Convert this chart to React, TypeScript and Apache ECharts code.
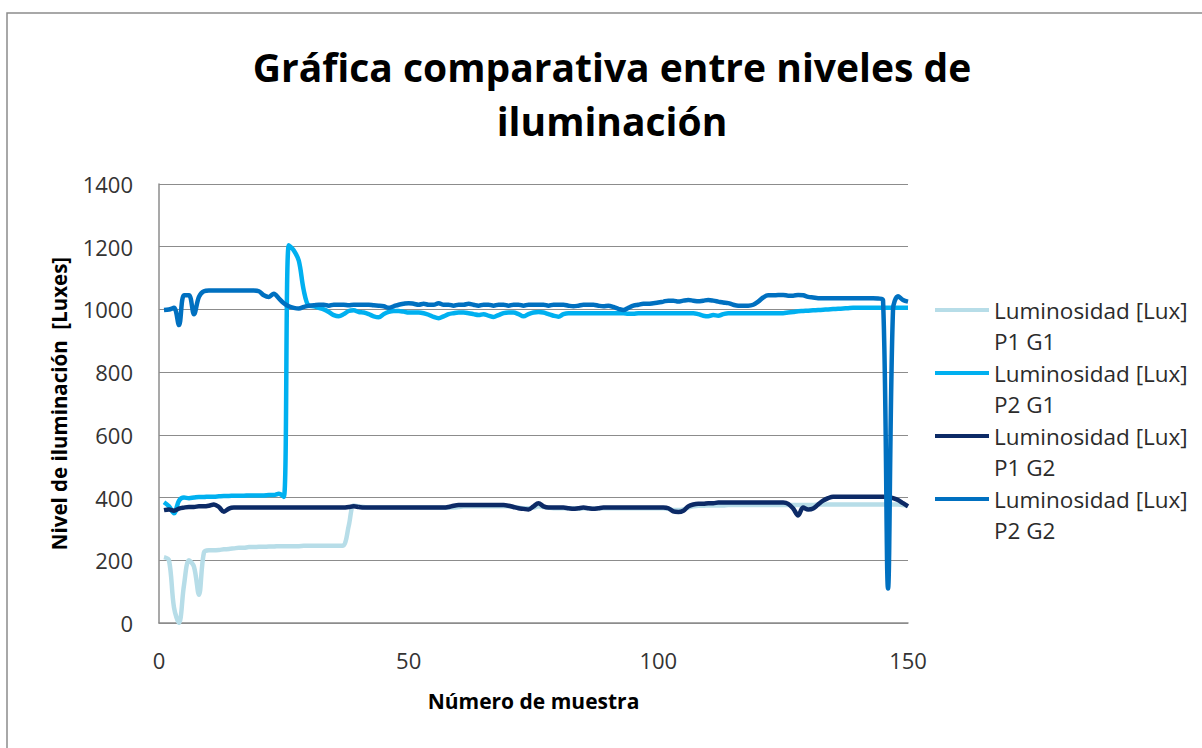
import React, { useEffect, useRef } from "react";
import * as echarts from "echarts";

const seriesNames = [
  "Luminosidad [Lux]\nP1 G1",
  "Luminosidad [Lux]\nP2 G1",
  "Luminosidad [Lux]\nP1 G2",
  "Luminosidad [Lux]\nP2 G2",
];
const seriesColors = ["#b7dde8", "#00b0f0", "#0c2a66", "#0070c0"];

const yTicks = [0, 200, 400, 600, 800, 1000, 1200, 1400];
const xTicks = [0, 50, 100, 150];

const p1g1 = [
  210, 200, 50, 0, 120, 200, 180, 90, 225, 232,
  232, 233, 235, 236, 238, 240, 240, 242, 242, 243,
  243, 244, 244, 245, 245, 245, 245, 245, 246, 246,
  246, 246, 246, 246, 246, 246, 248, 310, 375, 372,
  370, 368, 368, 368, 368, 368, 368, 368, 368, 368,
  368, 368, 368, 368, 368, 368, 368, 368, 368, 370,
  372, 372, 372, 372, 372, 372, 372, 372, 372, 372,
  370, 368, 366, 366, 368, 372, 370, 368, 366, 366,
  366, 366, 366, 364, 366, 366, 364, 366, 366, 366,
  366, 366, 366, 366, 366, 366, 366, 366, 366, 366,
  366, 364, 360, 360, 362, 368, 372, 374, 374, 375,
  375, 375, 375, 376, 376, 376, 376, 376, 376, 376,
  376, 376, 376, 376, 376, 376, 376, 376, 376, 376,
  376, 378, 378, 378, 378, 378, 378, 378, 378, 378,
  378, 378, 378, 378, 378, 378, 378, 378, 376, 375,
];

const p2g1 = [
  385, 372, 350, 390, 400, 398, 400, 402, 402, 403,
  403, 404, 405, 405, 406, 406, 406, 407, 407, 407,
  407, 408, 408, 412, 402, 1205, 1188, 1155, 1060, 1012,
  1010, 1005, 1000, 992, 982, 978, 985, 995, 997, 992,
  990, 985, 978, 975, 985, 992, 995, 995, 993, 990,
  990, 990, 988, 983, 976, 972, 978, 985, 988, 990,
  990, 988, 985, 982, 985, 980, 976, 982, 988, 990,
  990, 985, 978, 985, 990, 992, 990, 985, 980, 977,
  985, 988, 988, 988, 988, 988, 988, 988, 988, 988,
  988, 988, 988, 986, 986, 988, 988, 988, 988, 988,
  988, 988, 988, 988, 988, 988, 988, 985, 980, 978,
  982, 980, 985, 988, 988, 988, 988, 988, 988, 988,
  988, 988, 988, 988, 988, 990, 992, 994, 995, 996,
  997, 998, 999, 1000, 1001, 1002, 1003, 1004, 1005, 1005,
  1005, 1005, 1005, 1005, 1005, 1005, 1005, 1005, 1005, 1005,
];

const p1g2 = [
  360, 362, 358, 365, 368, 370, 370, 372, 372, 374,
  378, 370, 355, 365, 368, 368, 368, 368, 368, 368,
  368, 368, 368, 368, 368, 368, 368, 368, 368, 368,
  368, 368, 368, 368, 368, 368, 368, 370, 372, 370,
  368, 368, 368, 368, 368, 368, 368, 368, 368, 368,
  368, 368, 368, 368, 368, 368, 368, 370, 374, 376,
  376, 376, 376, 376, 376, 376, 376, 376, 376, 374,
  370, 366, 364, 362, 372, 382, 372, 368, 368, 368,
  368, 366, 364, 366, 368, 366, 364, 366, 368, 368,
  368, 368, 368, 368, 368, 368, 368, 368, 368, 368,
  368, 366, 356, 354, 358, 372, 378, 380, 380, 382,
  382, 384, 384, 384, 384, 384, 384, 384, 384, 384,
  384, 384, 384, 384, 384, 380, 365, 343, 368, 362,
  365, 378, 390, 398, 403, 403, 403, 403, 403, 403,
  403, 403, 403, 403, 403, 402, 398, 392, 382, 372,
];

const p2g2 = [
  998, 1000, 1005, 950, 1045, 1045, 985, 1040, 1058, 1060,
  1060, 1060, 1060, 1060, 1060, 1060, 1060, 1060, 1060, 1058,
  1045, 1040, 1050, 1035, 1020, 1010, 1005, 1003, 1008, 1012,
  1013, 1015, 1015, 1012, 1015, 1015, 1015, 1013, 1015, 1015,
  1015, 1015, 1013, 1012, 1010, 1005, 1010, 1015, 1018, 1020,
  1018, 1015, 1018, 1015, 1015, 1020, 1015, 1015, 1012, 1015,
  1015, 1018, 1015, 1012, 1015, 1015, 1012, 1015, 1015, 1012,
  1015, 1015, 1012, 1015, 1015, 1015, 1015, 1012, 1015, 1015,
  1015, 1012, 1010, 1012, 1015, 1015, 1015, 1012, 1010, 1012,
  1008, 1002, 998, 1005, 1012, 1015, 1018, 1018, 1020, 1022,
  1025, 1028, 1028, 1025, 1028, 1030, 1028, 1026, 1028, 1030,
  1028, 1025, 1022, 1020, 1015, 1012, 1012, 1012, 1015, 1025,
  1038, 1045, 1045, 1046, 1046, 1044, 1044, 1046, 1045, 1040,
  1038, 1036, 1036, 1036, 1036, 1036, 1036, 1036, 1036, 1036,
  1036, 1036, 1036, 1035, 1030, 110, 1000, 1042, 1030, 1025,
];

const allSeries = [p1g1, p2g1, p1g2, p2g2];
const legendIconY = [310, 373, 436, 499];

const FONT = "'Open Sans', 'Noto Sans', sans-serif";

export default function App() {
  const ref = useRef<HTMLDivElement>(null);
  useEffect(() => {
    if (!ref.current) return;
    const chart = echarts.init(ref.current, undefined, { renderer: "svg" });
    const legendLine = 31;
    chart.setOption({
      animation: false,
      backgroundColor: "#ffffff",
      title: {
        text: "Gráfica comparativa entre niveles de\niluminación",
        left: 612,
        textAlign: "center",
        top: 39,
        padding: 0,
        textStyle: {
          fontFamily: FONT,
          fontWeight: "bold",
          fontSize: 39,
          lineHeight: 54,
          color: "#000000",
        },
      },
      graphic: [
        {
          type: "rect",
          shape: { x: 7, y: 13, width: 1300, height: 800 },
          style: { fill: "none", stroke: "#8c8c8c", lineWidth: 1.5 },
          silent: true,
          z: -10,
        },
      ],
      legend: seriesNames.map((n, i) => ({
        data: [n],
        left: 935,
        top: legendIconY[i] - 1.5 * legendLine,
        orient: "vertical",
        icon: "rect",
        itemWidth: 54,
        itemHeight: 4,
        padding: 0,
        formatter: (name: string) => "\n" + name,
        textStyle: {
          fontFamily: FONT,
          fontSize: 22.5,
          color: "#2b2b2b",
          lineHeight: legendLine,
        },
      })),
      grid: { left: 159, right: 1202 - 908, top: 184, bottom: 748 - 623 },
      xAxis: {
        type: "value",
        min: xTicks[0],
        max: xTicks[xTicks.length - 1],
        interval: 50,
        name: "Número de muestra",
        nameLocation: "middle",
        nameGap: 67,
        nameTextStyle: { fontFamily: FONT, fontWeight: "bold", fontSize: 21, color: "#000" },
        axisLine: { show: true, lineStyle: { color: "#8c8c8c", width: 1.5 } },
        axisTick: { show: false },
        splitLine: { show: false },
        axisLabel: { fontFamily: FONT, fontSize: 22, color: "#333", margin: 26, formatter: (v: number) => String(v) },
      },
      yAxis: {
        type: "value",
        min: yTicks[0],
        max: yTicks[yTicks.length - 1],
        interval: 200,
        name: "Nivel de iluminación  [Luxes]",
        nameLocation: "middle",
        nameGap: 90,
        nameTextStyle: { fontFamily: FONT, fontWeight: "bold", fontSize: 20.5, color: "#000" },
        axisLine: { show: true, lineStyle: { color: "#8c8c8c", width: 1.5 } },
        axisTick: { show: false },
        splitLine: { show: true, lineStyle: { color: "#8c8c8c", width: 1.2 } },
        axisLabel: { fontFamily: FONT, fontSize: 22, color: "#333", margin: 26, formatter: (v: number) => String(v) },
      },
      series: allSeries.map((vals, i) => ({
        name: seriesNames[i],
        type: "line",
        data: vals.map((v, k) => [k + 1, v]),
        showSymbol: false,
        symbol: "none",
        smooth: 0.35,
        lineStyle: { color: seriesColors[i], width: 4.5 },
        itemStyle: { color: seriesColors[i] },
        z: 2 + i,
      })),
    });
    return () => chart.dispose();
  }, []);
  return (
    <div
      ref={ref}
      style={{ position: "fixed", left: 0, top: 0, width: 1202, height: 748 }}
    />
  );
}
